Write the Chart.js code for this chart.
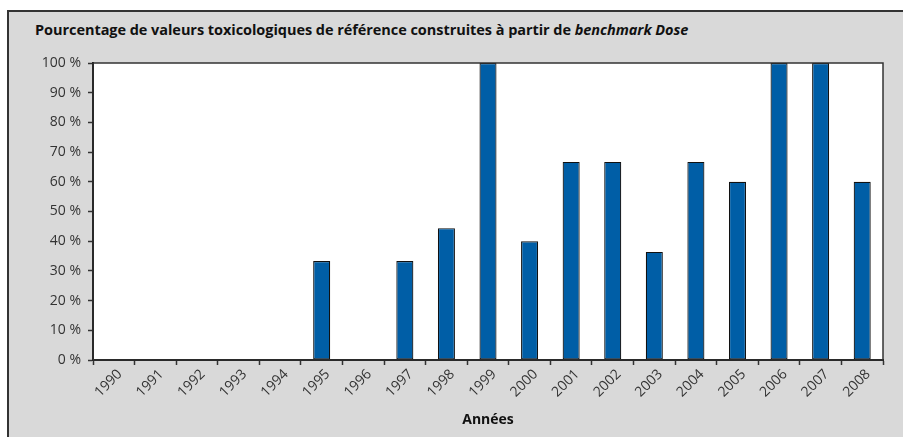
<!DOCTYPE html>
<html>
<head>
<meta charset="utf-8">
<script src="https://cdn.jsdelivr.net/npm/chart.js@4"></script>
<style>
  html, body { margin:0; padding:0; width:903px; height:437px; overflow:hidden; background:#ffffff; }
  #frame { position:absolute; left:7px; top:10px; width:930px; height:460px; background:#d9d9d9; border-left:2px solid #333; border-top:2px solid #333; }
  #title { position:absolute; left:35px; top:20px; font-family:"Open Sans", Lato, sans-serif; font-weight:bold; font-size:14.5px; color:#111; white-space:nowrap; letter-spacing:-0.05px; }
  #wrap { position:absolute; left:0; top:0; width:903px; height:437px; }
</style>
</head>
<body>
<div id="frame"></div>
<div id="title">Pourcentage de valeurs toxicologiques de référence construites à partir de <i>benchmark Dose</i></div>
<div id="wrap"><canvas id="c" width="903" height="437"></canvas></div>
<script>
const years = ["1990","1991","1992","1993","1994","1995","1996","1997","1998","1999","2000","2001","2002","2003","2004","2005","2006","2007","2008"];
const percentages = [0,0,0,0,0,33.3,0,33.3,44.4,100,40,66.7,66.7,36.4,66.7,60,100,100,60];
const xAxisTitle = "Années";

const FONT = '"Open Sans", Lato, sans-serif';

const plotBg = {
  id: 'plotBg',
  beforeDraw(chart) {
    const {ctx, chartArea:a} = chart;
    ctx.save();
    ctx.fillStyle = '#ffffff';
    ctx.fillRect(a.left, a.top, a.right - a.left, a.bottom - a.top);
    ctx.restore();
  },
  afterDraw(chart) {
    const {ctx, chartArea:a} = chart;
    ctx.save();
    ctx.strokeStyle = '#333';
    ctx.lineWidth = 1.5;
    ctx.strokeRect(a.left, a.top, a.right - a.left, a.bottom - a.top);
    ctx.restore();
  }
};

new Chart(document.getElementById('c'), {
  type: 'bar',
  data: {
    labels: years,
    datasets: [{
      data: percentages,
      backgroundColor: '#005ea6',
      borderColor: '#111',
      borderWidth: 1.2,
      borderSkipped: false,
      barPercentage: 0.41,
      categoryPercentage: 1.0
    }]
  },
  options: {
    responsive: false,
    animation: false,
    layout: { padding: { left: 0, top: 63, right: 20, bottom: 0 } },
    plugins: { legend: { display: false }, title: { display: false }, tooltip: { enabled: false } },
    scales: {
      y: {
        min: 0, max: 100,
        afterFit(s) { s.width = 93; },
        ticks: { stepSize: 10, padding: 7, color: '#333', font: { family: FONT, size: 14 }, callback: v => v + ' %' },
        grid: { drawOnChartArea: false, tickLength: 5, color: '#333', tickWidth: 1.5 },
        border: { display: true, color: '#111', width: 2 }
      },
      x: {
        afterFit(s) { s.height = 77; },
        ticks: { minRotation: 45, maxRotation: 45, color: '#333', padding: 1, labelOffset: 6, font: { family: FONT, size: 14 } },
        grid: { drawOnChartArea: false, offset: true, tickLength: 5, color: '#333', tickWidth: 1.5 },
        border: { display: true, color: '#111', width: 2 },
        title: { display: true, text: xAxisTitle, color: '#111', font: { family: FONT, size: 14, weight: 'bold' }, padding: { top: 4, bottom: 9 } }
      }
    }
  },
  plugins: [plotBg]
});
</script>
</body>
</html>
